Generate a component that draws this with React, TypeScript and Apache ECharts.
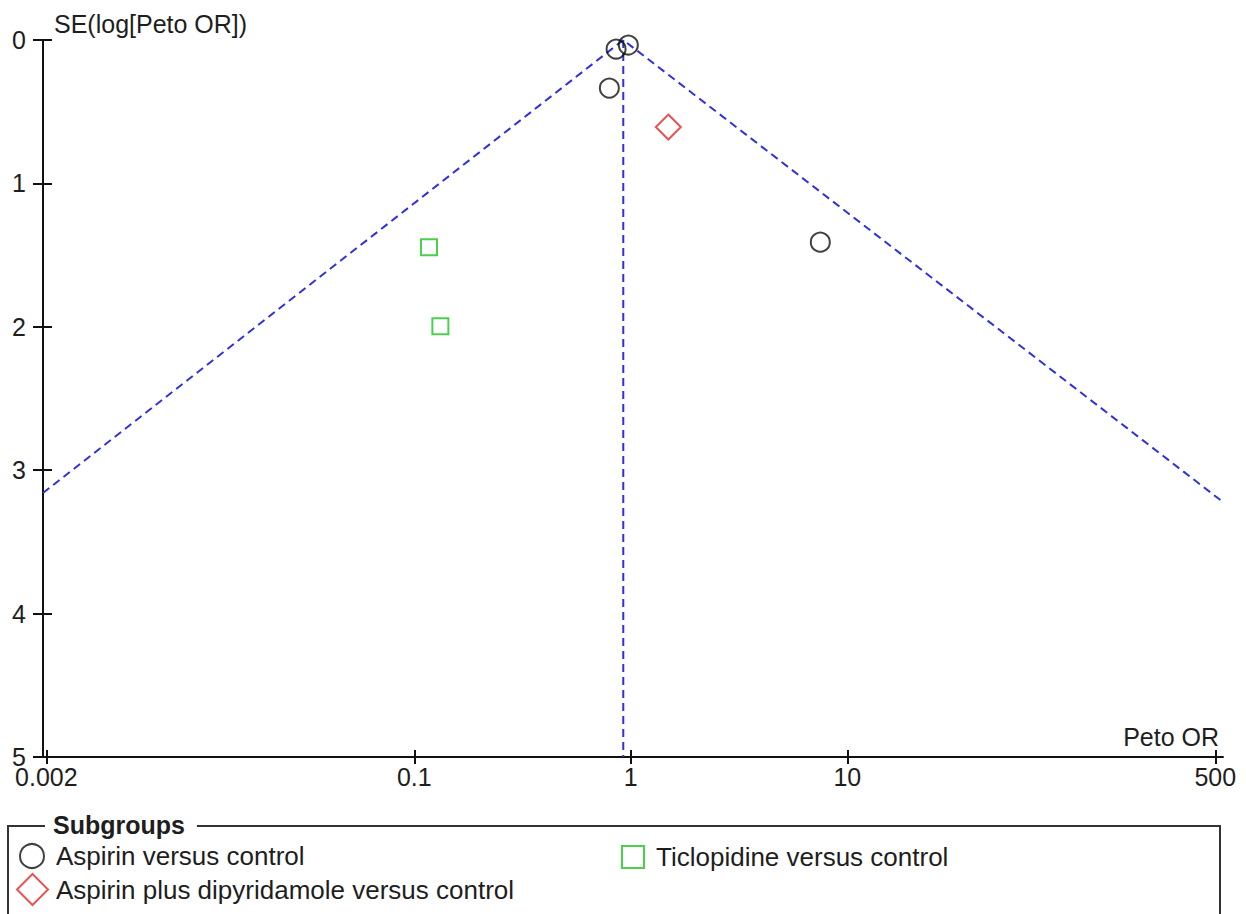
import React, { useEffect, useRef } from 'react';
import * as echarts from 'echarts';

// ---- data ----
const aspirinOR = [0.855, 0.974, 0.796, 7.5];
const aspirinSE = [0.063, 0.035, 0.335, 1.41];
const ticloOR = [0.117, 0.132];
const ticloSE = [1.445, 1.996];
const dipyOR = [1.49];
const dipySE = [0.607];
const pooledOR = 0.923;
const funnelOR = [0.00193, 0.923, 542.9];
const funnelSE = [3.159, 0, 3.222];
const xMinOR = 0.00193;
const xMaxOR = 542.9;
const xTickValues = [0.002, 0.1, 1, 10, 500];
const xTickLabels = ['0.002', '0.1', '1', '10', '500'];
const yMin = 0;
const yMax = 5;
const yInterval = 1;

const NAME_A = 'Aspirin versus control';
const NAME_T = 'Ticlopidine versus control';
const NAME_D = 'Aspirin plus dipyridamole versus control';

const FONT = "'Liberation Sans', Arial, sans-serif";
const TEXT = '#1e1e1e';
const AXIS = '#111';
const BLUE = '#3030dc';

export default function App() {
  const ref = useRef<HTMLDivElement>(null);
  useEffect(() => {
    const chart = echarts.init(ref.current!, null, { renderer: 'svg' });
    const lg = (v: number) => Math.log10(v);
    const pts = (xs: number[], ys: number[]) => xs.map((x, i) => [lg(x), ys[i]]);
    const tickLog = xTickValues.map(lg);
    const labelFor = (v: number) => {
      const i = tickLog.findIndex((t) => Math.abs(t - v) < 1e-6);
      return i >= 0 ? xTickLabels[i] : '';
    };
    const xBase = {
      type: 'value',
      min: lg(xMinOR),
      max: lg(xMaxOR),
      splitLine: { show: false },
    };
    const yBase = {
      type: 'value',
      inverse: true,
      min: yMin,
      max: yMax,
      interval: yInterval,
      splitLine: { show: false },
    };
    const legendText = (pad: number) => ({
      fontSize: 26,
      color: TEXT,
      fontFamily: FONT,
      padding: [0, 0, 0, pad],
    });
    const option = {
      animation: false,
      backgroundColor: '#fff',
      grid: { left: 43, right: 23, top: 40, bottom: 157, containLabel: false },
      xAxis: [
        {
          ...xBase,
          position: 'bottom',
          axisLine: { show: true, onZero: false, lineStyle: { color: AXIS, width: 2 } },
          axisTick: { show: true, length: 7, lineStyle: { color: AXIS, width: 2 }, customValues: tickLog },
          axisLabel: {
            customValues: tickLog,
            formatter: (v: number) => labelFor(v),
            margin: 11,
            fontSize: 25,
            lineHeight: 18,
            color: TEXT,
            fontFamily: FONT,
          },
        },
        {
          ...xBase,
          position: 'bottom',
          axisLine: { show: false, onZero: false },
          axisTick: { show: true, inside: true, length: 7, lineStyle: { color: AXIS, width: 2 }, customValues: tickLog },
          axisLabel: { show: false },
        },
      ],
      yAxis: [
        {
          ...yBase,
          position: 'left',
          axisLine: { show: true, onZero: false, lineStyle: { color: AXIS, width: 2 } },
          axisTick: { show: true, length: 10, lineStyle: { color: AXIS, width: 2 } },
          axisLabel: { margin: 17, fontSize: 25, lineHeight: 18, color: TEXT, fontFamily: FONT },
        },
        {
          ...yBase,
          position: 'left',
          axisLine: { show: false, onZero: false },
          axisTick: { show: true, inside: true, length: 9, lineStyle: { color: AXIS, width: 2 } },
          axisLabel: { show: false },
        },
      ],
      legend: [
        {
          data: [NAME_A],
          left: 19,
          top: 843,
          padding: 0,
          itemWidth: 24,
          itemHeight: 24,
          textStyle: legendText(7),
          selectedMode: false,
        },
        {
          data: [NAME_T],
          left: 621,
          top: 844,
          padding: 0,
          itemWidth: 22,
          itemHeight: 22,
          textStyle: legendText(7),
          selectedMode: false,
        },
        {
          data: [NAME_D],
          left: 16,
          top: 873,
          padding: 0,
          itemWidth: 31,
          itemHeight: 31,
          textStyle: legendText(3),
          selectedMode: false,
        },
      ],
      graphic: [
        {
          type: 'rect',
          shape: { x: 8, y: 826, width: 1212, height: 140 },
          style: { fill: 'none', stroke: '#333', lineWidth: 2 },
          z: 1,
        },
        {
          type: 'text',
          x: 45,
          y: 825,
          z: 2,
          style: {
            text: 'Subgroups',
            font: `bold 25px ${FONT}`,
            fill: TEXT,
            backgroundColor: '#fff',
            padding: [0, 12, 0, 8],
            verticalAlign: 'middle',
          },
        },
        {
          type: 'text',
          x: 54,
          y: 24,
          style: { text: 'SE(log[Peto OR])', font: `25px ${FONT}`, fill: TEXT, verticalAlign: 'middle' },
        },
        {
          type: 'text',
          x: 1219,
          y: 737,
          style: { text: 'Peto OR', font: `25px ${FONT}`, fill: TEXT, align: 'right', verticalAlign: 'middle' },
        },
      ],
      series: [
        {
          type: 'line',
          name: 'funnel',
          data: pts(funnelOR, funnelSE),
          symbol: 'none',
          silent: true,
          lineStyle: { color: BLUE, width: 2, type: [8, 5] },
          z: 1,
        },
        {
          type: 'line',
          name: 'pooled',
          data: [
            [lg(pooledOR), yMin],
            [lg(pooledOR), yMax],
          ],
          symbol: 'none',
          silent: true,
          lineStyle: { color: BLUE, width: 2, type: [8, 5] },
          z: 1,
        },
        {
          type: 'scatter',
          name: NAME_A,
          data: pts(aspirinOR, aspirinSE),
          symbol: 'circle',
          symbolSize: 19,
          itemStyle: { color: 'rgba(0,0,0,0)', borderColor: '#111', borderWidth: 2 },
          z: 3,
        },
        {
          type: 'scatter',
          name: NAME_T,
          data: pts(ticloOR, ticloSE),
          symbol: 'rect',
          symbolSize: 16,
          itemStyle: { color: 'rgba(0,0,0,0)', borderColor: '#1fc41f', borderWidth: 2 },
          z: 3,
        },
        {
          type: 'scatter',
          name: NAME_D,
          data: pts(dipyOR, dipySE),
          symbol: 'diamond',
          symbolSize: 25,
          itemStyle: { color: 'rgba(0,0,0,0)', borderColor: '#e02828', borderWidth: 2 },
          z: 3,
        },
      ],
    };
    chart.setOption(option as any);
    return () => chart.dispose();
  }, []);
  return (
    <div
      ref={ref}
      style={{ position: 'fixed', left: 0, top: 0, width: 1246, height: 914, background: '#fff' }}
    />
  );
}
